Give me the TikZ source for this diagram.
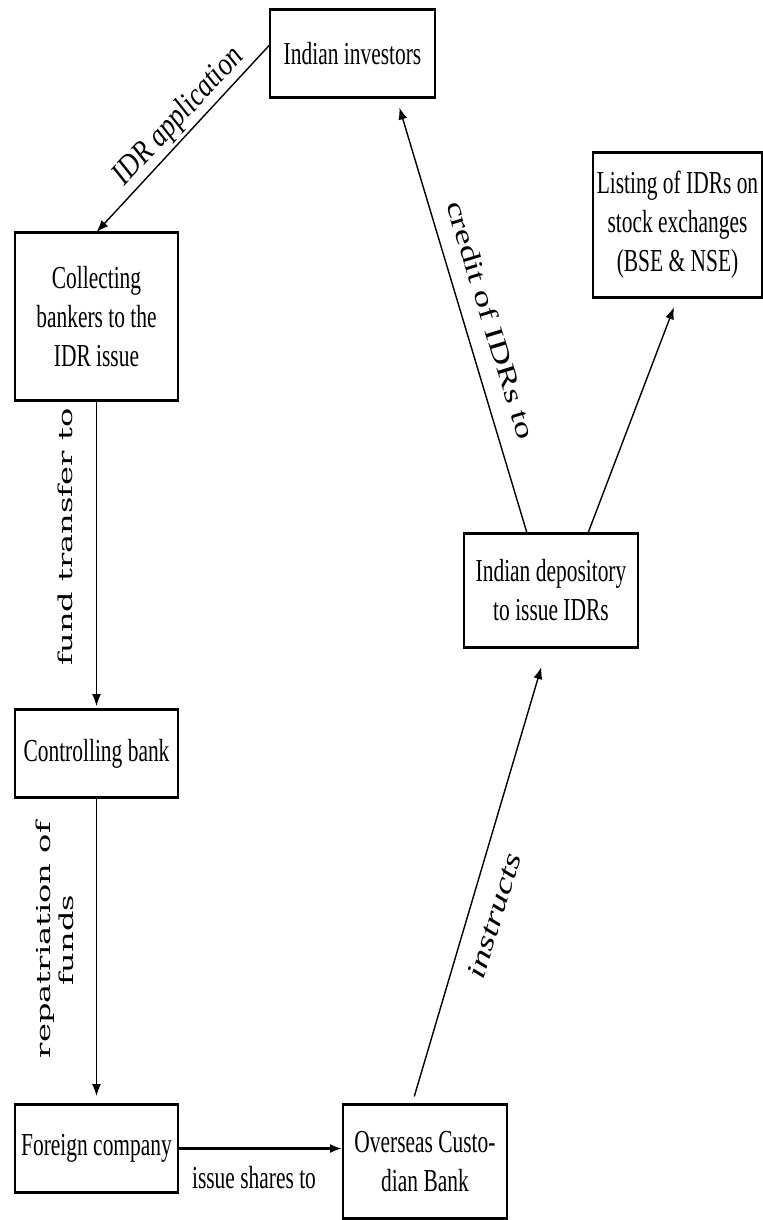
\documentclass[tikz,border=0pt]{standalone}
\usepackage{fontspec}
\setmainfont[FakeStretch=0.67]{Liberation Serif}
\newfontfamily\widefont[FakeStretch=1.67]{DejaVu Serif}
\newfontfamily\slopefont[FakeStretch=0.85]{Liberation Serif}
\newfontfamily\steepfont[FakeStretch=1.4]{Liberation Serif}
\usepackage{tikz}
\usetikzlibrary{arrows.meta}
\tikzset{
  box/.style={rectangle, draw, line width=0.9pt, align=center, inner xsep=0.5pt, font=\fontsize{16}{19.5}\selectfont,
    append after command={(\tikzlastnode.north west) edge[line width=1.5pt] (\tikzlastnode.north east)
      (\tikzlastnode.south west) edge[line width=1.5pt] (\tikzlastnode.south east)}},
  arrow/.style={-{Latex[length=6pt, width=4.5pt]}, line width=0.7pt},
  flowlabel/.style={font=\fontsize{16}{18}\selectfont},
  slopelabel/.style={font=\slopefont\itshape\fontsize{16}{18}\selectfont},
  steeplabel/.style={font=\steepfont\fontsize{13.1}{15}\selectfont},
  steepital/.style={font=\steepfont\itshape\fontsize{13.5}{15}\selectfont},
  sidelabel/.style={font=\widefont\fontsize{9.6}{11.5}\selectfont, align=center, rotate=90},
}

\begin{document}
\begin{tikzpicture}[x=0.5pt, y=-0.5pt]
  \useasboundingbox (0,0) rectangle (763,1220);

  % Boxes
  \node[box, minimum width=82.5pt, minimum height=43.5pt] (inv) at (352.5,53.5) {Indian investors};
  \node[box, minimum width=81.5pt, minimum height=83.5pt] (coll) at (96.5,316.5) {Collecting\\bankers to the\\IDR issue};
  \node[box, minimum width=84.5pt, minimum height=72pt] (list) at (677.5,225) {Listing of IDRs on\\stock exchanges\\(BSE \& NSE)};
  \node[box, minimum width=87pt, minimum height=56.5pt] (dep) at (551,590.5) {Indian depository\\to issue IDRs};
  \node[box, minimum width=81.5pt, minimum height=43.5pt] (ctrl) at (96.5,753.5) {Controlling bank};
  \node[box, minimum width=81.5pt, minimum height=43.5pt] (fco) at (96.5,1148.5) {Foreign company};
  \node[box, minimum width=82pt, minimum height=56.5pt] (ocb) at (425,1161.5) {Overseas Custo-\\dian Bank};

  % Flow
  \draw[arrow] ([yshift=4pt]inv.west) -- (coll.north);
  \draw[arrow, shorten >=1.5pt] (coll.south) -- (ctrl.north);
  \draw[arrow, shorten >=4pt] (ctrl.south) -- (fco.north);
  \draw[arrow, line width=1.2pt] (fco.east) -- (fco.east -| ocb.west);
  \draw[arrow, shorten <=4pt, shorten >=10pt] ([xshift=-6.5pt]ocb.north) -- ([xshift=-2pt]dep.south);
  \draw[arrow, shorten >=5pt] ([xshift=-12pt]dep.north) -- ([xshift=22pt]inv.south);
  \draw[arrow, shorten >=5pt] ([xshift=18.5pt]dep.north) -- (list.south);

  % Labels
  \node[slopelabel, rotate=47] (lapp) at (179,117) {IDR application};
  \node[steeplabel, rotate=-73] (lcred) at (491,320) {credit of IDRs to};
  \node[sidelabel] (lfund) at (65,537) {fund transfer to};
  \node[sidelabel] (lrep) at (55,940) {repatriation of\\funds};
  \node[steepital, rotate=73] (linst) at (494,916) {instructs};
  \node[flowlabel] (liss) at (254,1178) {issue shares to};

\end{tikzpicture}
\end{document}
